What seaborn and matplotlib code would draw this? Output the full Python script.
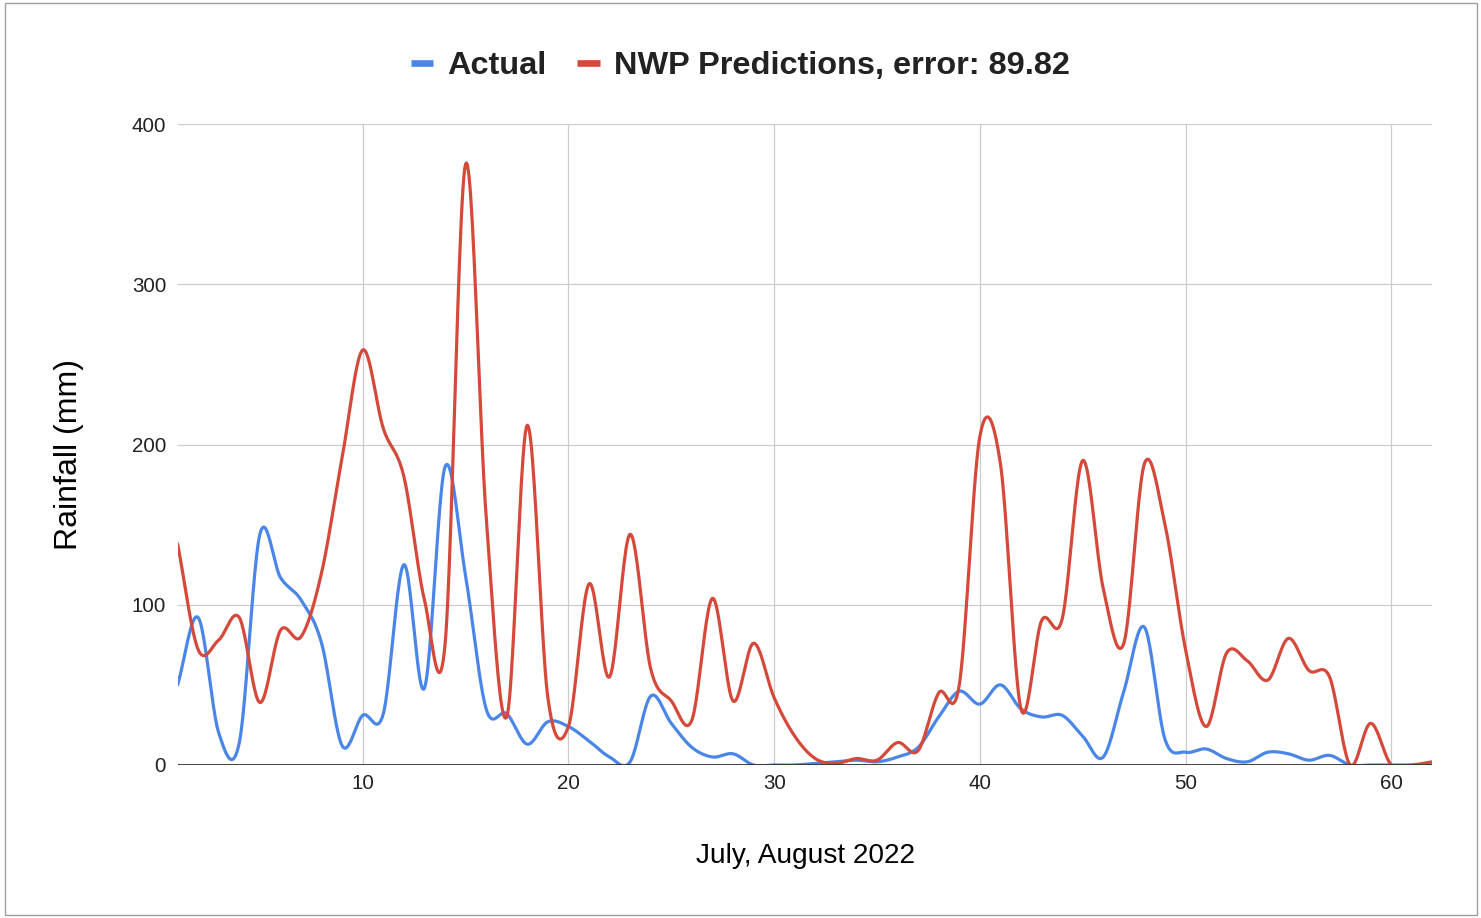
import numpy as np
import pandas as pd
import seaborn as sns
import matplotlib
matplotlib.use("Agg")
import matplotlib.pyplot as plt
from matplotlib.lines import Line2D
from matplotlib.patches import Rectangle

# ---------------- data ----------------
days = list(range(1, 63))
actual = [50, 92, 20, 14, 144, 117, 103, 76, 12, 31,
          32, 125, 48, 186, 118, 35, 32, 13, 27, 24,
          15, 5, 2, 43, 26, 11, 5, 7, 0, 0,
          0, 1, 2, 3, 2, 5, 11, 30, 46, 38,
          50, 35, 30, 31, 18, 5, 46, 86, 16, 8,
          10, 4, 2, 8, 7, 3, 6, 0, 0, 0,
          0, 0]
nwp = [138, 72, 78, 92, 39, 84, 80, 120, 192, 259,
       210, 180, 103, 75, 375, 155, 30, 212, 42, 24,
       113, 55, 144, 60, 40, 28, 104, 40, 76, 42,
       18, 4, 1, 4, 3, 14, 9, 45, 50, 205,
       188, 35, 90, 91, 190, 110, 76, 188, 150, 72,
       24, 70, 65, 53, 79, 59, 55, 0, 26, 0,
       0, 2]
series_names = ["Actual", "NWP Predictions, error: 89.82"]
x_ticks = [10, 20, 30, 40, 50, 60]
y_ticks = [0, 100, 200, 300, 400]
x_label = "July, August 2022"
y_label = "Rainfall (mm)"

BLUE = "#4a86e8"
RED = "#d5493b"


def smooth(xs, ys, n=24):
    """Catmull-Rom style cubic Hermite interpolation through the points."""
    xs = np.asarray(xs, float)
    ys = np.asarray(ys, float)
    m = np.empty_like(ys)
    m[1:-1] = (ys[2:] - ys[:-2]) / 2.0
    m[0] = ys[1] - ys[0]
    m[-1] = ys[-1] - ys[-2]
    t = np.linspace(0, 1, n, endpoint=False)
    h00 = 2 * t**3 - 3 * t**2 + 1
    h10 = t**3 - 2 * t**2 + t
    h01 = -2 * t**3 + 3 * t**2
    h11 = t**3 - t**2
    out_x, out_y = [], []
    for i in range(len(xs) - 1):
        dx = xs[i + 1] - xs[i]
        out_x.append(xs[i] + t * dx)
        out_y.append(h00 * ys[i] + h10 * m[i] + h01 * ys[i + 1] + h11 * m[i + 1])
    out_x.append([xs[-1]])
    out_y.append([ys[-1]])
    return np.concatenate(out_x), np.concatenate(out_y)


frames = []
for name, vals in zip(series_names, [actual, nwp]):
    sx, sy = smooth(days, vals)
    frames.append(pd.DataFrame({"day": sx, "value": sy, "series": name}))
df = pd.concat(frames, ignore_index=True)

# ---------------- style ----------------
sns.set_theme(style="white")
plt.rcParams["font.family"] = ["Liberation Sans", "DejaVu Sans"]

W, H = 1481, 918
fig = plt.figure(figsize=(W / 100, H / 100), dpi=100)
left_px, right_px, top_px, bottom_px = 177.6, 1432.4, 124, 765
ax = fig.add_axes([left_px / W, (H - bottom_px) / H,
                   (right_px - left_px) / W, (bottom_px - top_px) / H])

for name, color in zip(series_names, [BLUE, RED]):
    sub = df[df["series"] == name]
    sns.lineplot(data=sub, x="day", y="value", color=color, linewidth=2.3,
                 sort=False, estimator=None, ax=ax, legend=False, zorder=3)

ax.set_xlim(1, 62)
ax.set_ylim(0, 400)
ax.set_xticks(x_ticks)
ax.set_yticks(y_ticks)
ax.grid(True, color="#cccccc", linewidth=0.9)
ax.set_axisbelow(True)
ax.axhline(0, color="#333333", linewidth=1.3, zorder=4)
for s in ax.spines.values():
    s.set_visible(False)
ax.tick_params(axis="both", length=0, labelsize=14.8, colors="#222222")
ax.tick_params(axis="x", pad=6.5)
ax.tick_params(axis="y", pad=8.3)

ax.set_xlabel(x_label, fontsize=20.2, color="#000000", va="top")
ax.xaxis.set_label_coords(0.5, -0.121)
ax.set_ylabel(y_label, fontsize=23, color="#000000")
ax.yaxis.set_label_coords((84 - left_px) / (right_px - left_px), 0.4844)

handles = [Line2D([0], [0], color=BLUE, linewidth=4.8, solid_capstyle="butt"),
           Line2D([0], [0], color=RED, linewidth=4.8, solid_capstyle="butt")]
leg = fig.legend(handles, series_names, loc="center", ncol=2,
                 bbox_to_anchor=(0.5, (H - 66) / H), frameon=False,
                 prop={"weight": "bold", "size": 23.4},
                 handlelength=0.69, handletextpad=0.44, columnspacing=0.94,
                 borderpad=0, borderaxespad=0)
for t in leg.get_texts():
    t.set_color("#222222")

fig.patches.append(Rectangle((4.5 / W, 3 / H), (1477 - 4.5) / W, (915 - 3) / H,
                             transform=fig.transFigure, fill=False,
                             edgecolor="#9e9e9e", linewidth=1.0))

fig.savefig("out.png", dpi=100, facecolor="white")
